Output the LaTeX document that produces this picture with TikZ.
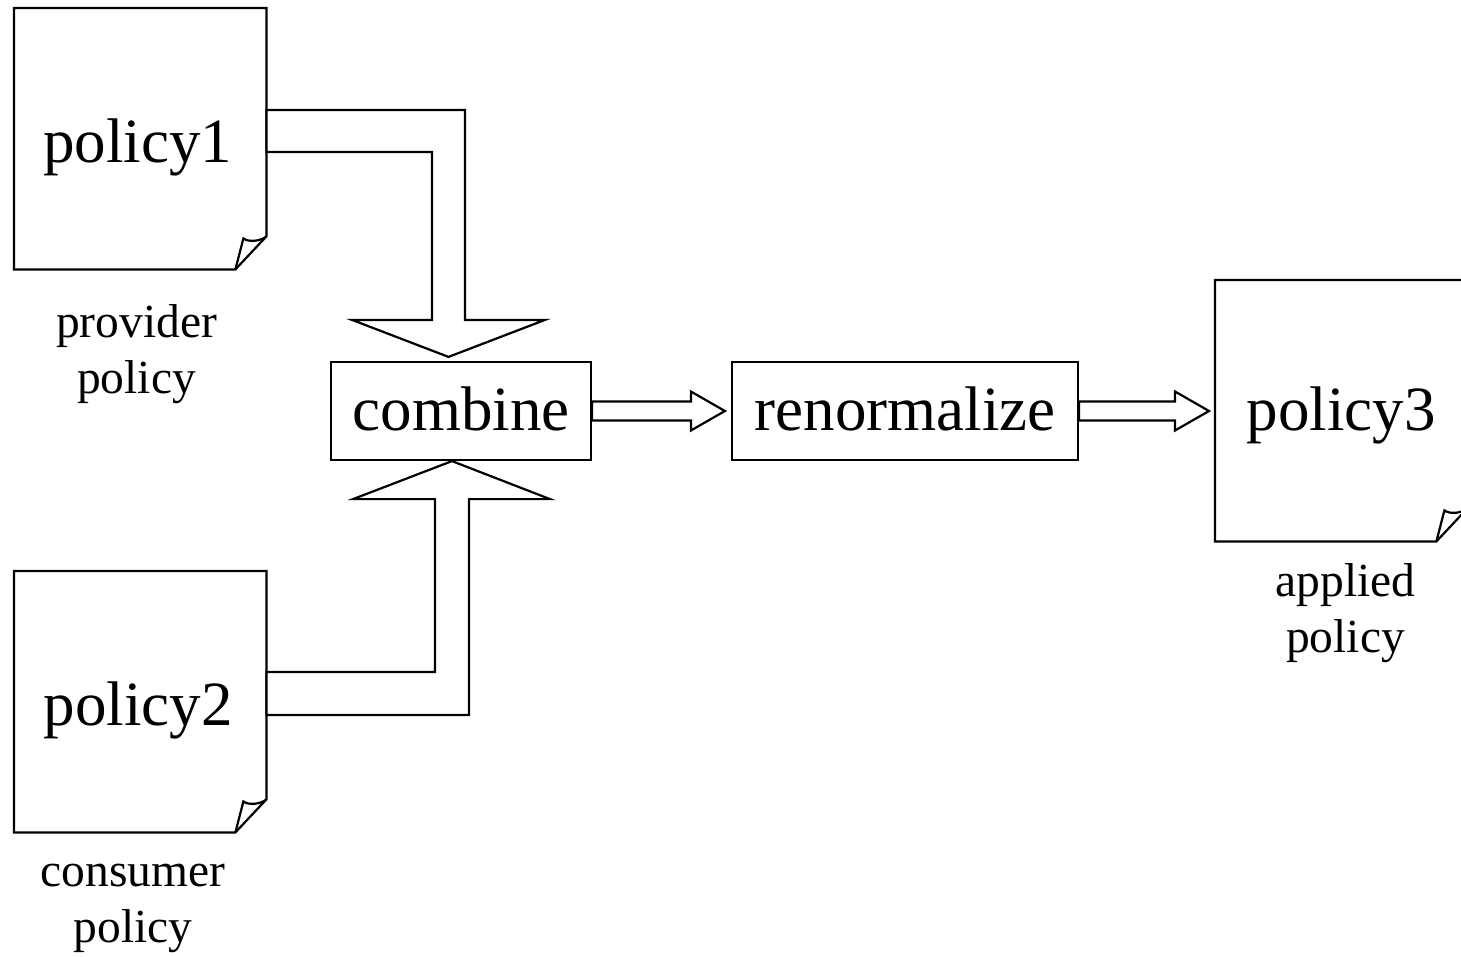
\documentclass[tikz,border=0pt]{standalone}
\usepackage{fontspec}
\setmainfont{Liberation Serif}
\usetikzlibrary{calc}
\newcommand\docfont{\fontsize{63}{75}\selectfont}
\newcommand\capfont{\fontsize{47.5}{56}\selectfont}
% sheet of paper with a curled lower-right corner, drawn on a frame node
\newcommand\papersheet[1]{%
  \draw[outline] (#1.north west) -- (#1.north east)
    -- ($(#1.south east)+(0,-33)$) -- ($(#1.south east)+(-31,0)$)
    -- (#1.south west) -- cycle;
  \draw[outline] ($(#1.south east)+(-31,0)$) -- ($(#1.south east)+(-23,-31)$)
    .. controls ($(#1.south east)+(-18,-27)$) and ($(#1.south east)+(-6,-28)$)
    .. ($(#1.south east)+(0,-33)$);
}
\begin{document}
\begin{tikzpicture}[x=1pt,y=-1pt,
  outline/.style={draw,line width=2.2pt,line join=miter},
  hollow/.style={draw,line width=2.2pt,fill=white,line join=miter},
  sheet/.style={minimum width=252pt,minimum height=261pt,inner sep=0pt,anchor=north west},
  stagebox/.style={draw,line width=2.2pt,minimum height=98pt,inner sep=0pt,
    text height=38pt,text depth=0pt,font=\docfont},
  sheettext/.style={anchor=base,inner sep=0pt,font=\docfont},
  caption/.style={anchor=base,inner sep=0pt,align=center,font=\capfont}]
\useasboundingbox (0,0) rectangle (1461,956);
\clip (0,0) rectangle (1461,956);

% documents
\node[sheet] (d1) at (14,8) {};
\node[sheet] (d2) at (14,571) {};
\node[sheet] (d3) at (1215,280) {};
\papersheet{d1}
\papersheet{d2}
\papersheet{d3}
\node[sheettext] (t1) at (137.5,162) {policy1};
\node[sheettext] (t2) at (138,725) {policy2};
\node[sheettext] (t3) at (1341,430) {policy3};
% captions: the base anchor sits on the last line
\node[caption] (c1) at (136.5,393) {provider\\policy};
\node[caption] (c2) at (133,942) {consumer\\policy};
\node[caption] (c3) at (1345.5,652) {applied\\policy};

% processing stages
\node[stagebox,minimum width=260pt] (cmb) at (461,411) {combine};
\node[stagebox,minimum width=346pt] (ren) at (905,411) {renormalize};

% wide arrow from policy1 down into combine
\draw[hollow] let \p1=(d1.north east), \p2=(cmb.north) in
  (\x1,\y1-102) -- (\x2+4,\y1-102) -- (\x2+4,\y2+41) -- (\x2+84,\y2+41)
  -- (\x2-12.5,\y2+4) -- (\x2-109,\y2+41) -- (\x2-29,\y2+41)
  -- (\x2-29,\y1-144) -- (\x1,\y1-144) -- cycle;

% wide arrow from policy2 up into combine
\draw[hollow] let \p1=(d2.north east), \p2=(cmb.south) in
  (\x1,\y1-144) -- (\x2+8,\y1-144) -- (\x2+8,\y2-38) -- (\x2+89,\y2-38)
  -- (\x2-9,\y2) -- (\x2-108,\y2-38) -- (\x2-26,\y2-38)
  -- (\x2-26,\y1-101) -- (\x1,\y1-101) -- cycle;

% hollow arrows along the pipeline
\draw[hollow] let \p1=(cmb.east), \p2=(ren.west) in
  (\x1,\y1+9.5) -- (\x2-40,\y1+9.5) -- (\x2-40,\y1+19.5) -- (\x2-6,\y1)
  -- (\x2-40,\y1-19.5) -- (\x2-40,\y1-9.5) -- (\x1,\y1-9.5) -- cycle;
\draw[hollow] let \p1=(ren.east), \p2=(d3.west) in
  (\x1,\y1+9.5) -- (\x2-40,\y1+9.5) -- (\x2-40,\y1+19.5) -- (\x2-6,\y1)
  -- (\x2-40,\y1-19.5) -- (\x2-40,\y1-9.5) -- (\x1,\y1-9.5) -- cycle;
\end{tikzpicture}
\end{document}
